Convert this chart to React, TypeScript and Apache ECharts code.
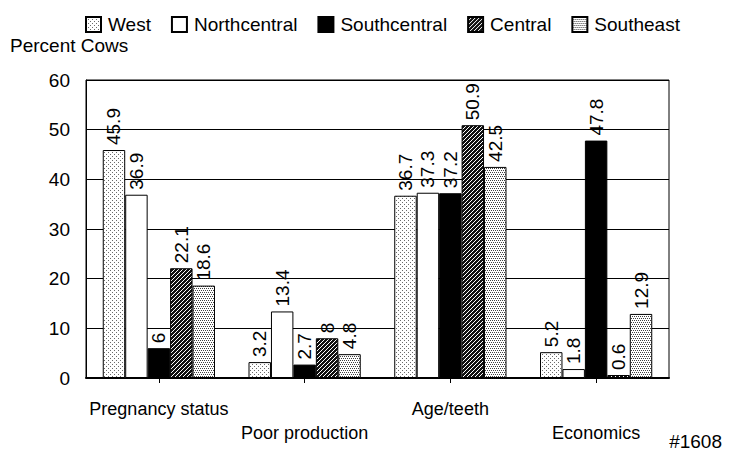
import React, { useEffect, useRef } from "react";
import * as echarts from "echarts";

const categories = ["Pregnancy status", "Poor production", "Age/teeth", "Economics"];
const seriesNames = ["West", "Northcentral", "Southcentral", "Central", "Southeast"];
const west = [45.9, 3.2, 36.7, 5.2];
const northcentral = [36.9, 13.4, 37.3, 1.8];
const southcentral = [6, 2.7, 37.2, 47.8];
const central = [22.1, 8, 50.9, 0.6];
const southeast = [18.6, 4.8, 42.5, 12.9];
const yMin = 0;
const yMax = 60;
const yInterval = 10;
const yTitle = "Percent Cows";
const figureId = "#1608";

const FONT = "'Liberation Sans', Arial, Helvetica, sans-serif";

function makePattern(size: number, bg: string, fg: string, pixels: number[][]) {
  const c = document.createElement("canvas");
  c.width = size;
  c.height = size;
  const ctx = c.getContext("2d")!;
  ctx.fillStyle = bg;
  ctx.fillRect(0, 0, size, size);
  ctx.fillStyle = fg;
  pixels.forEach(([x, y]) => ctx.fillRect(x, y, 1, 1));
  return { image: c.toDataURL(), repeat: "repeat", imageWidth: size, imageHeight: size } as any;
}

export default function App() {
  const ref = useRef<HTMLDivElement>(null);

  useEffect(() => {
    document.body.style.margin = "0";
    if (!ref.current) return;
    const chart = echarts.init(ref.current, null, { renderer: "svg" });

    const fills = [
      makePattern(4, "#ffffff", "#6a6a6a", [[0, 0], [2, 2]]),
      "#ffffff",
      "#000000",
      makePattern(4, "#111111", "#ffffff", [[3, 0], [2, 1], [1, 2], [0, 3]]),
      makePattern(4, "#ffffff", "#404040", [[0, 0], [2, 0], [1, 2], [3, 2]]),
    ];
    const values = [west, northcentral, southcentral, central, southeast];

    const series = seriesNames.map((name, i) => ({
      name,
      type: "bar",
      data: values[i],
      barGap: "0%",
      barCategoryGap: "23%",
      itemStyle: { color: fills[i], borderColor: "#000", borderWidth: 1 },
      label: {
        show: true,
        position: "top",
        rotate: 90,
        distance: 5,
        align: "left",
        verticalAlign: "middle",
        color: "#000",
        fontSize: 19,
        fontFamily: FONT,
      },
    }));

    chart.setOption({
      animation: false,
      backgroundColor: "#fff",
      textStyle: { fontFamily: FONT, color: "#000" },
      legend: {
        data: seriesNames,
        left: 85,
        top: 15,
        padding: 0,
        icon: "rect",
        itemWidth: 15,
        itemHeight: 15,
        itemGap: 20,
        textStyle: { fontSize: 19, color: "#000", fontFamily: FONT, padding: [0, 0, 0, 2] },
      },
      grid: {
        left: 86,
        right: 60,
        top: 80,
        bottom: 79,
        show: true,
        borderColor: "#000",
        borderWidth: 1,
        backgroundColor: "transparent",
      },
      xAxis: {
        type: "category",
        data: categories,
        axisLine: { lineStyle: { color: "#000", width: 2 } },
        axisTick: { show: true, alignWithLabel: true, length: 5, lineStyle: { color: "#000" } },
        axisLabel: {
          interval: 0,
          margin: 19,
          fontSize: 18,
          lineHeight: 24,
          color: "#000",
          fontFamily: FONT,
          formatter: (v: string, idx: number) => (idx % 2 === 1 ? "\n" + v : v),
        },
      },
      yAxis: {
        type: "value",
        min: yMin,
        max: yMax,
        interval: yInterval,
        axisLine: { show: true, lineStyle: { color: "#000", width: 1 } },
        axisTick: { show: false },
        splitLine: { show: true, lineStyle: { color: "#000", width: 1 } },
        axisLabel: { margin: 16, fontSize: 19, color: "#000", fontFamily: FONT },
      },
      graphic: [
        {
          type: "text",
          left: 10,
          top: 36,
          style: { text: yTitle, fontSize: 19, fill: "#000", fontFamily: FONT },
        },
        {
          type: "text",
          x: 722,
          y: 441,
          style: {
            text: figureId,
            fontSize: 19,
            fill: "#000",
            fontFamily: FONT,
            textAlign: "right",
            textVerticalAlign: "middle",
          },
        },
      ],
      series,
    });

    return () => chart.dispose();
  }, []);

  return <div ref={ref} style={{ width: 729, height: 457 }} />;
}
